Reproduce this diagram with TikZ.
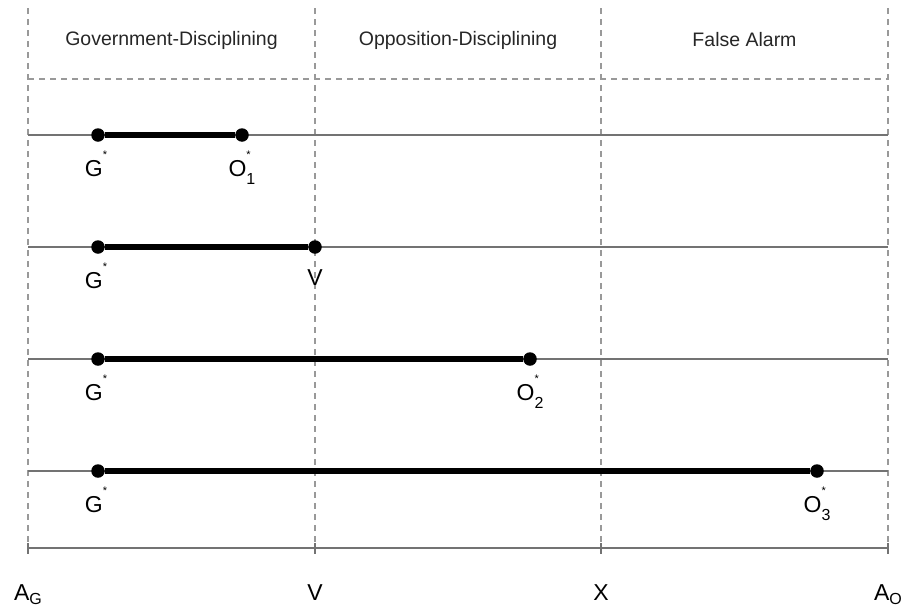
\documentclass[tikz,border=0pt]{standalone}
\usepackage{fontspec}
\setmainfont{Liberation Sans}
\usetikzlibrary{positioning}

\newcommand{\stlab}[1]{#1\raisebox{0.75em}{\fontsize{11}{11}\selectfont *}}
\newcommand{\stsublab}[2]{#1\rlap{\raisebox{0.75em}{\fontsize{11}{11}\selectfont *}}\raisebox{-0.35em}{\fontsize{16}{16}\selectfont #2}}
\newcommand{\sublab}[2]{#1\raisebox{-0.2em}{\fontsize{16}{16}\selectfont #2}}

\begin{document}
\begin{tikzpicture}[x=1pt,y=-1pt,
  grid line/.style={draw=black!40,dash pattern=on 6pt off 5pt,line width=1.3pt},
  row line/.style={draw=black!55,line width=1.2pt},
  span line/.style={line width=5.5pt},
  pt node/.style={circle,fill=black,inner sep=0pt,minimum size=13.5pt},
  lab node/.style={font=\fontsize{23}{27}\selectfont,inner sep=0pt,anchor=base},
  head node/.style={font=\fontsize{19.5}{23}\selectfont,text=black!85}]

  \useasboundingbox (0,0) rectangle (905,608);

  % section borders and axis ticks
  \foreach \x/\n in {28/ag,315/v,601/x,888/ao} {
    \coordinate (top-\n) at (\x,8);
    \coordinate (bot-\n) at (\x,548);
    \coordinate (tka-\n) at (\x,543);
    \coordinate (tkb-\n) at (\x,554);
    \draw[grid line] (top-\n) -- (bot-\n);
    \draw[row line] (tka-\n) -- (tkb-\n);
  }
  \coordinate (hl) at (28,79);
  \coordinate (hr) at (888,79);
  \draw[grid line] (hl) -- (hr);

  % rows
  \foreach \y/\i in {135/1,247/2,359/3,471/4,548/5} {
    \coordinate (r\i-l) at (28,\y);
    \coordinate (r\i-r) at (888,\y);
    \draw[row line] (r\i-l) -- (r\i-r);
  }

  \node[head node] (h1) at (171.5,40) {Government-Disciplining};
  \node[head node] (h2) at (458,40) {Opposition-Disciplining};
  \node[head node] (h3) at (744.5,40) {False Alarm};

  \node[pt node] (g1) at (98,135) {};
  \node[pt node] (o1) at (242,135) {};
  \node[pt node] (g2) at (98,247) {};
  \node[pt node] (v2) at (315,247) {};
  \node[pt node] (g3) at (98,359) {};
  \node[pt node] (o2) at (530,359) {};
  \node[pt node] (g4) at (98,471) {};
  \node[pt node] (o3) at (817,471) {};

  \draw[span line] (g1) -- (o1);
  \draw[span line] (g2) -- (v2);
  \draw[span line] (g3) -- (o2);
  \draw[span line] (g4) -- (o3);

  \node[lab node] (g1l) at (96,176) {\stlab{G}};
  \node[lab node] (o1l) at (242,176) {\stsublab{O}{1}};
  \node[lab node] (g2l) at (96,288) {\stlab{G}};
  \node[lab node] (v2l) at (315,285) {V};
  \node[lab node] (g3l) at (96,400) {\stlab{G}};
  \node[lab node] (o2l) at (530,400) {\stsublab{O}{2}};
  \node[lab node] (g4l) at (96,512) {\stlab{G}};
  \node[lab node] (o3l) at (817,512) {\stsublab{O}{3}};

  \node[lab node] (agl) at (28,600) {\sublab{A}{G}};
  \node[lab node] (vl) at (315,600) {V};
  \node[lab node] (xl) at (601,600) {X};
  \node[lab node] (aol) at (888,600) {\sublab{A}{O}};
\end{tikzpicture}
\end{document}
